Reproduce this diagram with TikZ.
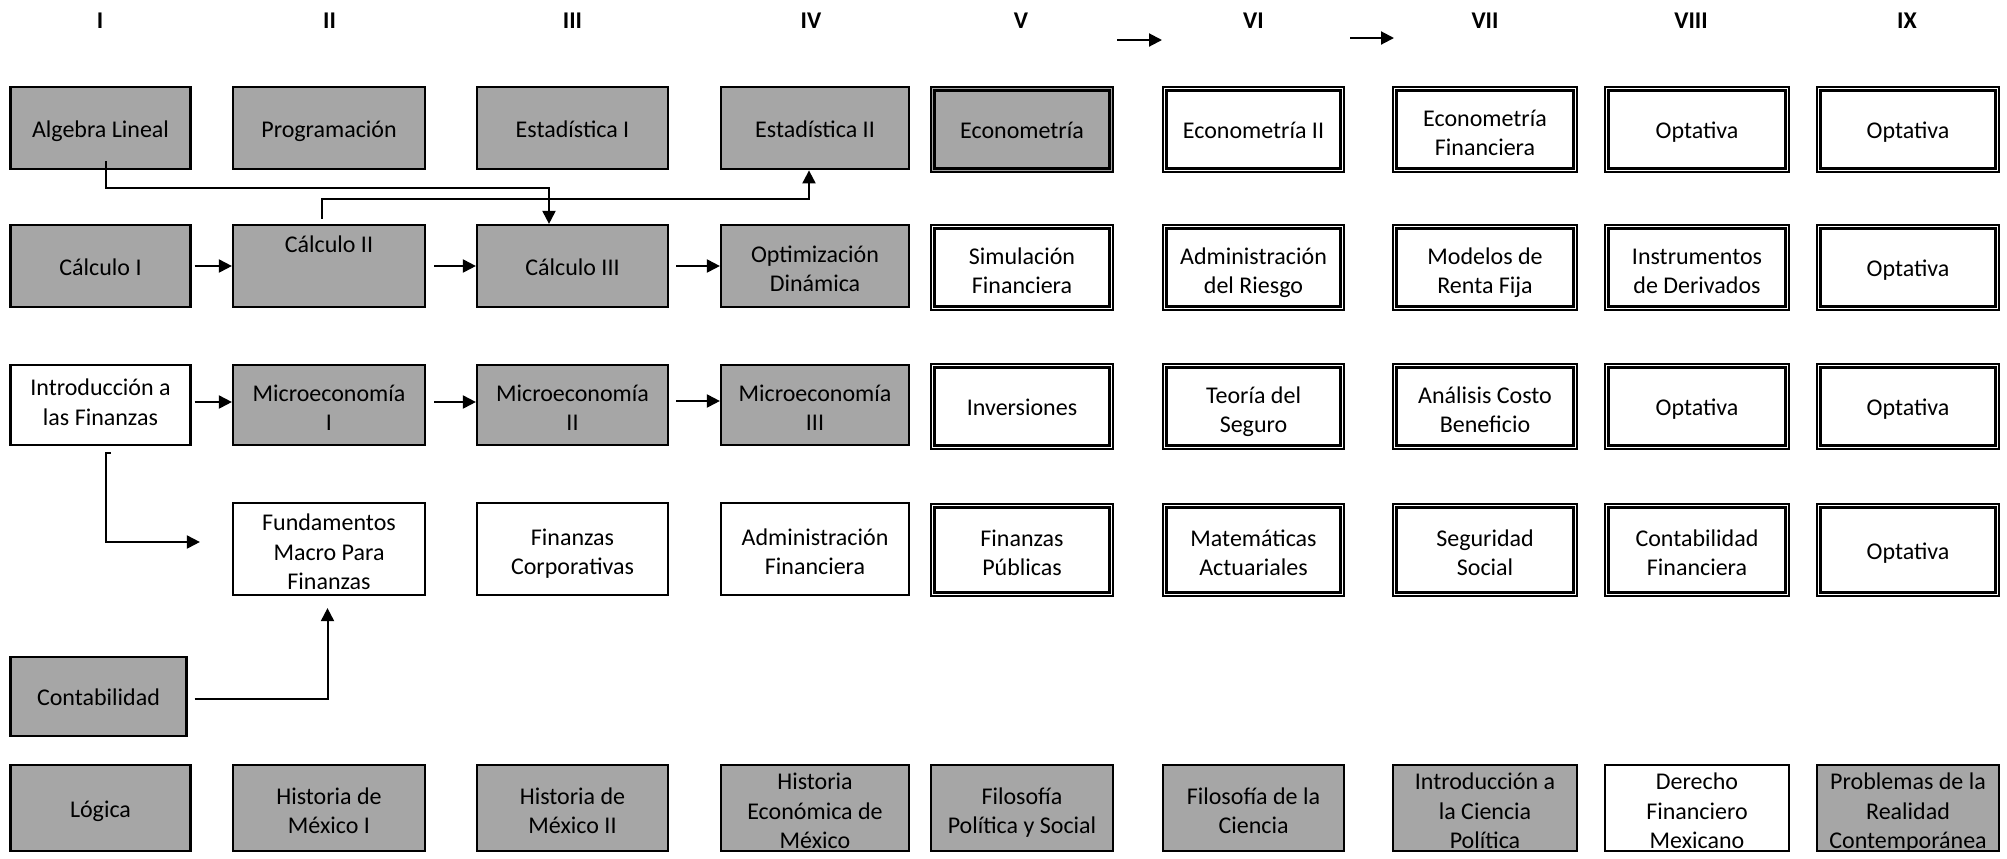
\documentclass[tikz,border=0pt]{standalone}
\usepackage{fontspec}
\setmainfont{Carlito}
\usetikzlibrary{arrows.meta}
\definecolor{boxgray}{HTML}{A6A6A6}
\newcommand\wdbot{\rule[-2.7pt]{0pt}{2.7pt}}
\tikzset{
  every node/.style={font=\fontsize{12}{14.65}\selectfont},
  course/.style={draw=black, line width=1.1pt, align=center, inner xsep=0pt, inner ysep=-5pt, text=black,
    execute at end node=\wdbot},
  gbox/.style={course, fill=boxgray},
  wbox/.style={course, fill=white},
  dbox/.style={course, line width=0.6pt, fill=white,
    path picture={\draw[line width=1.4pt] ([shift={(1.8pt,-1.8pt)}]path picture bounding box.north west) rectangle ([shift={(-1.8pt,1.8pt)}]path picture bounding box.south east);}},
  dboxB/.style={dbox, line width=1pt},
  dgbox/.style={dbox, fill=boxgray},
  l1/.style={execute at begin node={\rule{0pt}{11.7pt}}},
  l2/.style={execute at begin node={\rule{0pt}{28.5pt}}},
  l2up/.style={execute at begin node={\rule{0pt}{19.5pt}}},
  l3/.style={execute at begin node={\rule{0pt}{43.2pt}}},
  hdr/.style={font=\bfseries\fontsize{12}{14.65}\selectfont},
  arr/.style={line width=1pt, -{Triangle[length=6.5pt,width=6.5pt]}},
  cI/.style={minimum width=90pt},
  cII/.style={minimum width=96pt},
  cIII/.style={minimum width=95.5pt},
  cIV/.style={minimum width=94pt},
  cV/.style={minimum width=91pt},
  cVI/.style={minimum width=90.5pt},
  cVII/.style={minimum width=92pt},
  cVIII/.style={minimum width=92pt},
  cIX/.style={minimum width=91pt},
  rA/.style={minimum height=41pt},
  rAd/.style={minimum height=42.5pt},
  rB/.style={minimum height=41pt},
  rC/.style={minimum height=40pt},
  rD/.style={minimum height=46pt},
  rE/.style={minimum height=39.5pt},
  rF/.style={minimum height=43pt},
}
\begin{document}
\begin{tikzpicture}[x=0.5pt,y=-0.5pt]
\useasboundingbox (0,0) rectangle (2007,858);
\fill[white] (0,0) rectangle (2007,858);

% column headers
\node[hdr] (h1) at (100,20.5) {I};
\node[hdr] (h2) at (329.5,20.5) {II};
\node[hdr] (h3) at (572.5,20.5) {III};
\node[hdr] (h4) at (811,20.5) {IV};
\node[hdr] (h5) at (1021,20.5) {V};
\node[hdr] (h6) at (1253.5,20.5) {VI};
\node[hdr] (h7) at (1485,20.5) {VII};
\node[hdr] (h8) at (1691,20.5) {VIII};
\node[hdr] (h9) at (1907,20.5) {IX};

% row 1
\node[gbox,l1,cI,rA] (alg) at (100.5,128.3) {Algebra Lineal};
\node[gbox,l1,cII,rA] (prog) at (329,128.3) {Programación};
\node[gbox,l1,cIII,rA] (est1) at (572.5,128.3) {Estadística I};
\node[gbox,l1,cIV,rA] (est2) at (815,128.3) {Estadística II};
\node[dgbox,l1,cV,rAd] (eco1) at (1022,129.5) {Econometría};
\node[dbox,l1,cVI,rAd] (eco2) at (1253.5,129.5) {Econometría II};
\node[dboxB,l2,cVII,rAd] (ecof) at (1485,129.5) {Econometría\\Financiera};
\node[dbox,l1,cVIII,rAd] (opt1) at (1697,129.5) {Optativa};
\node[dbox,l1,cIX,rAd] (opt2) at (1908,129.5) {Optativa};

% row 2
\node[gbox,l1,cI,rB] (c1) at (100.5,266) {Cálculo I};
\node[gbox,l1,cII,rB] (c2) at (329,266) {\raisebox{11.5pt}[0pt][0pt]{Cálculo II}};
\node[gbox,l1,cIII,rB] (c3) at (572.5,266) {Cálculo III};
\node[gbox,l2,cIV,rB] (opd) at (815,266) {Optimización\\Dinámica};
\node[dbox,l2,cV,rAd] (sim) at (1022,267.5) {Simulación\\Financiera};
\node[dbox,l2,cVI,rAd] (adr) at (1253.5,267.5) {Administración\\del Riesgo};
\node[dboxB,l2,cVII,rAd] (mrf) at (1485,267.5) {Modelos de\\Renta Fija};
\node[dbox,l2,cVIII,rAd] (ins) at (1697,267.5) {Instrumentos\\de Derivados};
\node[dbox,l1,cIX,rAd] (opt3) at (1908,267.5) {Optativa};

% row 3
\node[wbox,l2up,cI,rC] (intro) at (100.5,405) {Introducción a\\las Finanzas};
\node[gbox,l2,cII,rC] (mi1) at (329,405) {Microeconomía\\I};
\node[gbox,l2,cIII,rC] (mi2) at (572.5,405) {Microeconomía\\II};
\node[gbox,l2,cIV,rC] (mi3) at (815,405) {Microeconomía\\III};
\node[dbox,l1,cV,rAd] (inv) at (1022,406.5) {Inversiones};
\node[dbox,l2,cVI,rAd] (tds) at (1253.5,406.5) {Teoría del\\Seguro};
\node[dboxB,l2,cVII,rAd] (acb) at (1485,406.5) {Análisis Costo\\Beneficio};
\node[dbox,l1,cVIII,rAd] (opt4) at (1697,406.5) {Optativa};
\node[dbox,l1,cIX,rAd] (opt5) at (1908,406.5) {Optativa};

% row 4
\node[wbox,l3,cII,rD] (fund) at (329,549) {Fundamentos\\Macro Para\\Finanzas};
\node[wbox,l2,cIII,rD] (fcorp) at (572.5,549) {Finanzas\\Corporativas};
\node[wbox,l2,cIV,rD] (adf) at (815,549) {Administración\\Financiera};
\node[dbox,l2,cV,rD] (fpub) at (1022,550) {Finanzas\\Públicas};
\node[dbox,l2,cVI,rD] (mat) at (1253.5,550) {Matemáticas\\Actuariales};
\node[dboxB,l2,cVII,rD] (seg) at (1485,550) {Seguridad\\Social};
\node[dbox,l2,cVIII,rD] (conf) at (1697,550) {Contabilidad\\Financiera};
\node[dbox,l1,cIX,rD] (opt6) at (1908,550) {Optativa};

% row 5
\node[gbox,l1,minimum width=88pt,rE] (cont) at (98.5,696.5) {Contabilidad};

% row 6
\node[gbox,l1,cI,rF] (log) at (100.5,808) {Lógica};
\node[gbox,l2,cII,rF] (hm1) at (329,808) {Historia de\\México I};
\node[gbox,l2,cIII,rF] (hm2) at (572.5,808) {Historia de\\México II};
\node[gbox,l3,cIV,rF] (hem) at (815,808) {Historia\\Económica de\\México};
\node[gbox,l2,cV,rF] (fps) at (1022,808) {Filosofía\\Política y Social};
\node[gbox,l2,cVI,rF] (fdc) at (1253.5,808) {Filosofía de la\\Ciencia};
\node[gbox,l3,cVII,rF] (icp) at (1485,808) {Introducción a\\la Ciencia\\Política};
\node[wbox,l3,cVIII,rF] (dfm) at (1697,808) {Derecho\\Financiero\\Mexicano};
\node[gbox,l3,cIX,rF] (prc) at (1908,808) {Problemas de la\\Realidad\\Contemporánea};

% free arrows at the top
\coordinate (a1s) at (1117,40);
\coordinate (a1e) at (1162,40);
\coordinate (a2s) at (1350,38);
\coordinate (a2e) at (1394,38);
\draw[arr] (a1s) -- (a1e);
\draw[arr] (a2s) -- (a2e);

% connectors
\draw[arr] ([xshift=2.5pt,yshift=4.5pt]alg.south) -- ++(0,-13.5pt) -| ([xshift=-11.75pt]c3.north);
\draw[arr] ([xshift=-3.5pt,yshift=2.5pt]c2.north) -- ++(0,10pt) -| ([xshift=-3pt]est2.south);
\draw[arr] ([xshift=1.5pt]c1.east) -- (c2.west);
\draw[arr] ([xshift=4pt]c2.east) -- (c3.west);
\draw[arr] ([xshift=3.5pt]c3.east) -- (opd.west);
\draw[arr] ([xshift=1.5pt,yshift=1.5pt]intro.east) -- ([yshift=1.5pt]mi1.west);
\draw[arr] ([xshift=4pt,yshift=1.5pt]mi1.east) -- ([yshift=1.5pt]mi2.west);
\draw[arr] ([xshift=3.5pt,yshift=2pt]mi2.east) -- ([yshift=2pt]mi3.west);
\draw[arr] ([xshift=5pt,yshift=-3.5pt]intro.south) -- ++(-2.5pt,0) |- ([xshift=-16pt,yshift=3.5pt]fund.west);
\draw[arr] ([xshift=3.5pt,yshift=-1.25pt]cont.east) -| ([xshift=-0.75pt,yshift=-6pt]fund.south);
\end{tikzpicture}
\end{document}
